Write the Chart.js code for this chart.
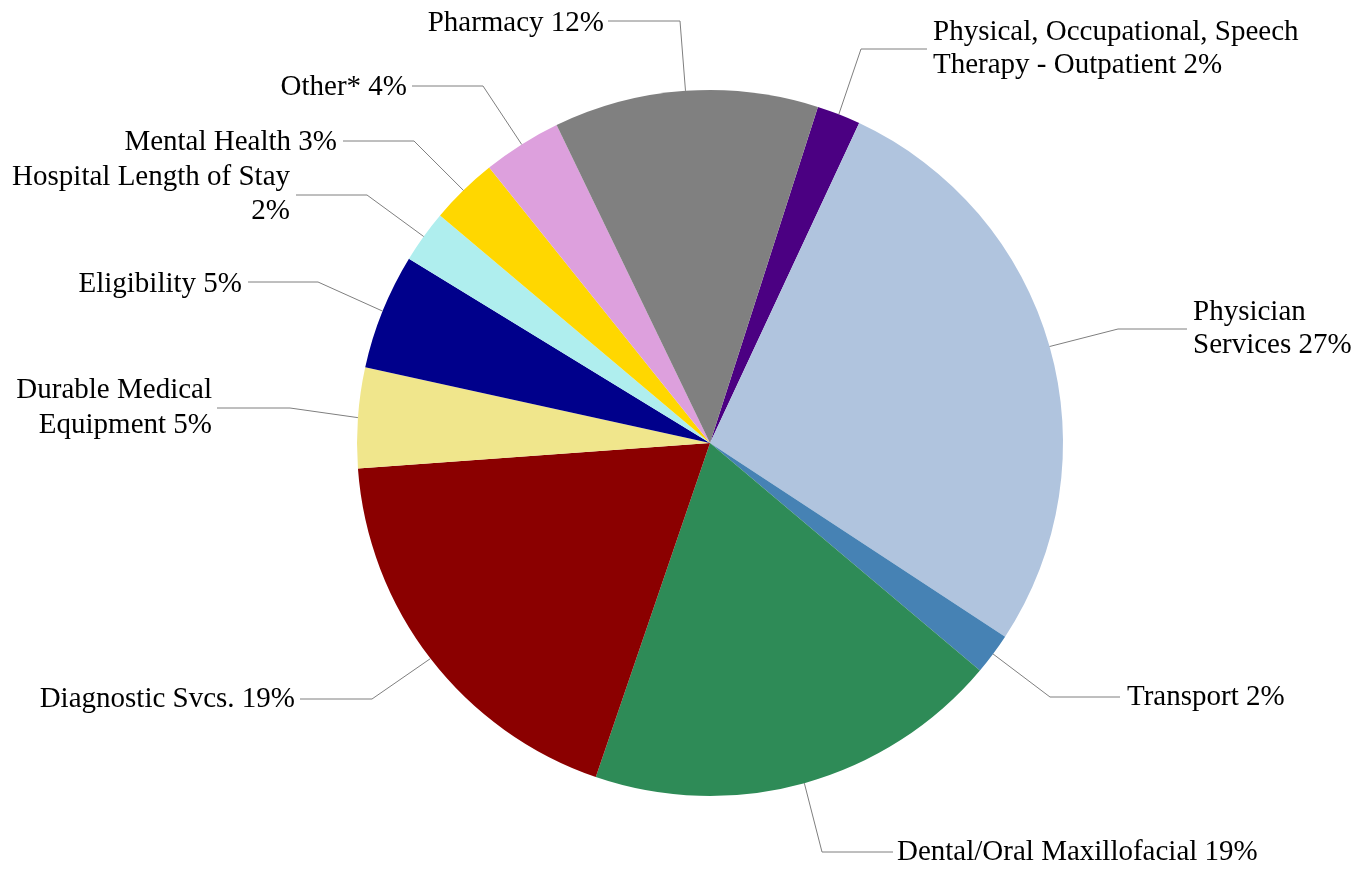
<!DOCTYPE html>
<html>
<head>
<meta charset="utf-8">
<script src="https://cdn.jsdelivr.net/npm/chart.js@4/dist/chart.umd.min.js"></script>
<style>
  html, body { margin:0; padding:0; background:#fff; }
  #wrap { width:1367px; height:869px; position:relative; }
</style>
</head>
<body>
<div id="wrap"><canvas id="pie"></canvas></div>
<script>
'use strict';

// ── Data ─────────────────────────────────────────────────────────────────────
var categories = [
  ['Physical, Occupational, Speech', 'Therapy - Outpatient'],
  ['Physician', 'Services'],
  ['Transport'],
  ['Dental/Oral Maxillofacial'],
  ['Diagnostic Svcs.'],
  ['Durable Medical', 'Equipment'],
  ['Eligibility'],
  ['Hospital Length of Stay', ''],
  ['Mental Health'],
  ['Other*'],
  ['Pharmacy']
];
var shares = [2.0, 27.3, 1.9, 19.1, 18.6, 4.6, 5.3, 2.4, 3.1, 3.6, 12.1];
var colors = ['#4b0082','#b0c4de','#4682b4','#2e8b57','#8b0000','#f0e68c',
              '#00008b','#afeeee','#ffd700','#dda0dd','#808080'];

// ── Label placement (elbow, end of horizontal leader, text anchor) ──────────
var labelLayout = [
  { ex:861,  ey:49,  hx:927,  side:'left',  tx:933,  base:[40,73] },
  { ex:1118, ey:329, hx:1187, side:'left',  tx:1193, base:[320,353] },
  { ex:1050, ey:697, hx:1120, side:'left',  tx:1127, base:[705] },
  { ex:822,  ey:852, hx:893,  side:'left',  tx:897,  base:[860] },
  { ex:372,  ey:699, hx:300,  side:'right', tx:295,  base:[707] },
  { ex:290,  ey:408, hx:217,  side:'right', tx:212,  base:[398,433] },
  { ex:318,  ey:282, hx:248,  side:'right', tx:242,  base:[292] },
  { ex:367,  ey:195, hx:296,  side:'right', tx:290,  base:[185,219] },
  { ex:414,  ey:141, hx:343,  side:'right', tx:337,  base:[150] },
  { ex:483,  ey:86,  hx:412,  side:'right', tx:407,  base:[95] },
  { ex:680,  ey:21,  hx:608,  side:'right', tx:604,  base:[31] }
];

// ── Leader-line labels plugin ────────────────────────────────────────────────
var leaderLabels = {
  id: 'leaderLabels',
  afterDraw: function(chart) {
    var ctx = chart.ctx;
    var meta = chart.getDatasetMeta(0);
    var total = shares.reduce(function(a, b) { return a + b; }, 0);
    ctx.save();
    meta.data.forEach(function(arc, i) {
      var p = arc.getProps(['x','y','startAngle','endAngle','outerRadius'], true);
      var mid = (p.startAngle + p.endAngle) / 2;
      var sx = p.x + Math.cos(mid) * p.outerRadius;
      var sy = p.y + Math.sin(mid) * p.outerRadius;
      var L = labelLayout[i];
      ctx.strokeStyle = '#7f7f7f';
      ctx.lineWidth = 1;
      ctx.beginPath();
      ctx.moveTo(sx, sy);
      ctx.lineTo(L.ex, L.ey);
      ctx.lineTo(L.hx, L.ey);
      ctx.stroke();

      var pct = Math.round(shares[i] / total * 100) + '%';
      var lines = categories[i].slice();
      lines[lines.length - 1] = (lines[lines.length - 1] + ' ' + pct).trim();
      ctx.fillStyle = '#000';
      ctx.font = '29px "Liberation Serif", "Times New Roman", serif';
      ctx.textAlign = L.side;
      ctx.textBaseline = 'alphabetic';
      lines.forEach(function(t, k) { ctx.fillText(t, L.tx, L.base[k]); });
    });
    ctx.restore();
  }
};

new Chart(document.getElementById('pie'), {
  type: 'pie',
  data: {
    labels: categories.map(function(c) { return c.join(' ').trim(); }),
    datasets: [{ data: shares, backgroundColor: colors, borderWidth: 0, hoverOffset: 0 }]
  },
  options: {
    responsive: true, maintainAspectRatio: false, animation: false,
    rotation: 17.8,
    layout: { padding: { left:357, right:304, top:90, bottom:73 } },
    plugins: { legend: { display:false }, tooltip: { enabled:false } }
  },
  plugins: [leaderLabels]
});
</script>
</body>
</html>
